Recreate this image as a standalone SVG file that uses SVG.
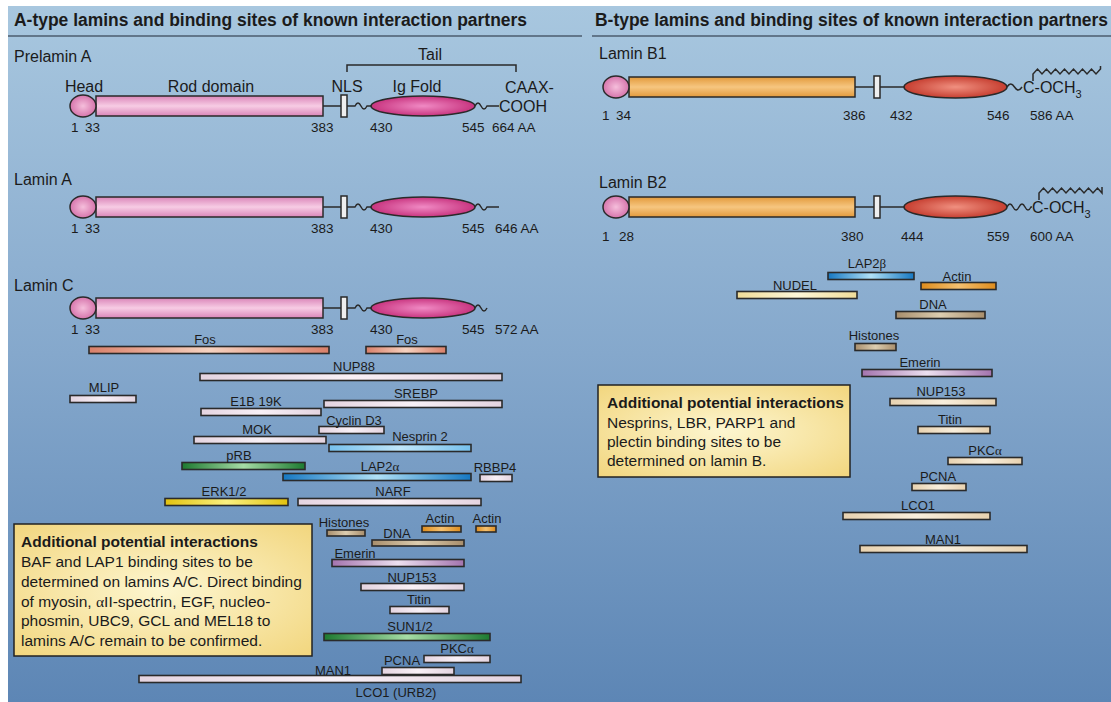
<svg xmlns="http://www.w3.org/2000/svg" width="1111" height="702" viewBox="0 0 1111 702">
<defs>
<style>
text{font-family:"Liberation Sans",Arial,Helvetica,sans-serif;fill:#1b1b1b}
.title{font-size:17.5px;font-weight:bold}
.lam{font-size:16px}
.dom{font-size:16px}
.num{font-size:13.5px}
.lbl{font-size:13px;text-anchor:middle}
.box{font-size:15.5px}
.boxh{font-size:15.5px;font-weight:bold}
.gr{font-family:"Liberation Serif","DejaVu Serif",serif}
.st{stroke:#2a2a2a;stroke-width:1.5}
.bar{stroke:#2a2a2a;stroke-width:1.6}
.ln{stroke:#2a2a2a;stroke-width:1.5;fill:none}
</style>
<linearGradient id="bg" x1="0" y1="0" x2="0" y2="1">
<stop offset="0" stop-color="#a8c7df"/><stop offset="0.5" stop-color="#85a8cc"/><stop offset="1" stop-color="#5d86b5"/>
</linearGradient>
<linearGradient id="gPinkRod" x1="0" y1="0" x2="0" y2="1">
<stop offset="0" stop-color="#da86b9"/><stop offset="0.5" stop-color="#f7cce4"/><stop offset="1" stop-color="#da86b9"/>
</linearGradient>
<radialGradient id="gPinkHead" cx="0.5" cy="0.5" r="0.5">
<stop offset="0" stop-color="#f5bedb"/><stop offset="1" stop-color="#d675ac"/>
</radialGradient>
<radialGradient id="gIg" cx="0.5" cy="0.5" r="0.5">
<stop offset="0" stop-color="#f08ac4"/><stop offset="1" stop-color="#c8347f"/>
</radialGradient>
<linearGradient id="gOrRod" x1="0" y1="0" x2="0" y2="1">
<stop offset="0" stop-color="#e39a3c"/><stop offset="0.5" stop-color="#f6c680"/><stop offset="1" stop-color="#e39a3c"/>
</linearGradient>
<radialGradient id="gRed" cx="0.5" cy="0.5" r="0.5">
<stop offset="0" stop-color="#f09080"/><stop offset="1" stop-color="#c63e30"/>
</radialGradient>
<radialGradient id="gBox" cx="0.5" cy="0.5" r="0.7">
<stop offset="0" stop-color="#fdf6d0"/><stop offset="1" stop-color="#f2d67e"/>
</radialGradient>
<linearGradient id="bFos" x1="0" x2="1"><stop offset="0" stop-color="#d9806a"/><stop offset="0.5" stop-color="#f6d2c0"/><stop offset="1" stop-color="#d9806a"/></linearGradient>
<linearGradient id="bWh" x1="0" x2="1"><stop offset="0" stop-color="#e4d4e0"/><stop offset="0.5" stop-color="#f8f0f6"/><stop offset="1" stop-color="#e4d4e0"/></linearGradient>
<linearGradient id="bLb" x1="0" x2="1"><stop offset="0" stop-color="#76c0ec"/><stop offset="0.5" stop-color="#c0e6fa"/><stop offset="1" stop-color="#76c0ec"/></linearGradient>
<linearGradient id="bGr" x1="0" x2="1"><stop offset="0" stop-color="#1d7a30"/><stop offset="0.5" stop-color="#a6dca6"/><stop offset="1" stop-color="#1d7a30"/></linearGradient>
<linearGradient id="bBl" x1="0" x2="1"><stop offset="0" stop-color="#1678c2"/><stop offset="0.5" stop-color="#b0e0f6"/><stop offset="1" stop-color="#1678c2"/></linearGradient>
<linearGradient id="bYe" x1="0" x2="1"><stop offset="0" stop-color="#e2c210"/><stop offset="0.5" stop-color="#faf080"/><stop offset="1" stop-color="#e2c210"/></linearGradient>
<linearGradient id="bTan" x1="0" x2="1"><stop offset="0" stop-color="#a88e6c"/><stop offset="0.5" stop-color="#dccdb0"/><stop offset="1" stop-color="#a88e6c"/></linearGradient>
<linearGradient id="bAc" x1="0" x2="1"><stop offset="0" stop-color="#de8c1c"/><stop offset="0.5" stop-color="#f4c070"/><stop offset="1" stop-color="#de8c1c"/></linearGradient>
<linearGradient id="bEm" x1="0" x2="1"><stop offset="0" stop-color="#a474ae"/><stop offset="0.5" stop-color="#ece0f0"/><stop offset="1" stop-color="#a474ae"/></linearGradient>
<linearGradient id="bNu" x1="0" x2="1"><stop offset="0" stop-color="#f0dc98"/><stop offset="0.5" stop-color="#fcf6d8"/><stop offset="1" stop-color="#f0dc98"/></linearGradient>
<linearGradient id="bCr" x1="0" x2="1"><stop offset="0" stop-color="#e8d2b0"/><stop offset="0.5" stop-color="#f8eedc"/><stop offset="1" stop-color="#e8d2b0"/></linearGradient>
</defs>

<rect x="0" y="0" width="1111" height="702" fill="#ffffff"/>
<rect x="8" y="6" width="1103" height="696" fill="url(#bg)"/>

<g id="titles">
<text class="title" x="14" y="26" textLength="513" lengthAdjust="spacingAndGlyphs">A-type lamins and binding sites of known interaction partners</text>
<line x1="8" y1="36" x2="582" y2="36" stroke="#4d5d6e" stroke-width="1.5"/>
<text class="title" x="595" y="26" textLength="513" lengthAdjust="spacingAndGlyphs">B-type lamins and binding sites of known interaction partners</text>
<line x1="592" y1="36" x2="1111" y2="36" stroke="#4d5d6e" stroke-width="1.5"/>
</g>

<g id="prelaminA">
<text class="lam" x="14" y="62">Prelamin A</text>
<text class="dom" x="430" y="60" text-anchor="middle">Tail</text>
<path class="ln" d="M347,72 V65 H516 V72"/>
<text class="dom" x="84" y="92" text-anchor="middle">Head</text>
<text class="dom" x="211" y="92" text-anchor="middle">Rod domain</text>
<text class="dom" x="347" y="92" text-anchor="middle">NLS</text>
<text class="dom" x="417" y="92" text-anchor="middle">Ig Fold</text>
<text class="dom" x="505" y="93" font-size="17">CAAX-</text>
<text class="dom" x="499" y="112" font-size="17">COOH</text>
<path class="ln" d="M323,106 H342 M347,106 H355 c2,-4 4,-4 6,0 s4,4 6,0 H372 M475,106 c2,-4 4,-4 6,0 s4,4 6,0 H499"/>
<rect class="st" x="96" y="96" width="227" height="20" fill="url(#gPinkRod)"/>
<ellipse class="st" cx="83" cy="106" rx="13" ry="11" fill="url(#gPinkHead)"/>
<rect class="st" x="341" y="95" width="6" height="22" fill="#eeeeee"/>
<ellipse class="st" cx="423" cy="106" rx="52" ry="10" fill="url(#gIg)"/>
<text class="num" x="71" y="132">1</text><text class="num" x="85" y="132">33</text>
<text class="num" x="311" y="132">383</text><text class="num" x="370" y="132">430</text>
<text class="num" x="462" y="132">545</text><text class="num" x="492" y="132">664 AA</text>
</g>

<g id="laminA">
<text class="lam" x="14" y="185">Lamin A</text>
<path class="ln" d="M323,207 H342 M347,207 H355 c2,-4 4,-4 6,0 s4,4 6,0 H372 M475,207 c2,-4 4,-4 6,0 s4,4 6,0 H499"/>
<rect class="st" x="96" y="197" width="227" height="20" fill="url(#gPinkRod)"/>
<ellipse class="st" cx="83" cy="207" rx="13" ry="11" fill="url(#gPinkHead)"/>
<rect class="st" x="341" y="196" width="6" height="22" fill="#eeeeee"/>
<ellipse class="st" cx="423" cy="207" rx="52" ry="10" fill="url(#gIg)"/>
<text class="num" x="71" y="233">1</text><text class="num" x="85" y="233">33</text>
<text class="num" x="311" y="233">383</text><text class="num" x="370" y="233">430</text>
<text class="num" x="462" y="233">545</text><text class="num" x="495" y="233">646 AA</text>
</g>

<g id="laminC">
<text class="lam" x="14" y="291">Lamin C</text>
<path class="ln" d="M323,308 H342 M347,308 H355 c2,-4 4,-4 6,0 s4,4 6,0 H372 M475,308 c2,-4 4,-4 6,0 s4,4 6,0"/>
<rect class="st" x="96" y="298" width="227" height="20" fill="url(#gPinkRod)"/>
<ellipse class="st" cx="83" cy="308" rx="13" ry="11" fill="url(#gPinkHead)"/>
<rect class="st" x="341" y="297" width="6" height="22" fill="#eeeeee"/>
<ellipse class="st" cx="423" cy="308" rx="52" ry="10" fill="url(#gIg)"/>
<text class="num" x="71" y="334">1</text><text class="num" x="85" y="334">33</text>
<text class="num" x="311" y="334">383</text><text class="num" x="370" y="334">430</text>
<text class="num" x="462" y="334">545</text><text class="num" x="495" y="334">572 AA</text>
</g>

<g id="a-bars">
<g id="a-fos1"><rect class="bar" x="89" y="346.5" width="240" height="7" fill="url(#bFos)"/><text class="lbl" x="205" y="344">Fos</text></g>
<g id="a-fos2"><rect class="bar" x="366" y="346.5" width="80" height="7" fill="url(#bFos)"/><text class="lbl" x="407" y="344">Fos</text></g>
<g id="a-nup88"><rect class="bar" x="200" y="373.5" width="302" height="7" fill="url(#bWh)"/><text class="lbl" x="354" y="371">NUP88</text></g>
<g id="a-mlip"><rect class="bar" x="70" y="395.5" width="66" height="7" fill="url(#bWh)"/><text class="lbl" x="104" y="392">MLIP</text></g>
<g id="a-srebp"><rect class="bar" x="324" y="400.5" width="178" height="7" fill="url(#bWh)"/><text class="lbl" x="416" y="398">SREBP</text></g>
<g id="a-e1b"><rect class="bar" x="201" y="408.5" width="120" height="7" fill="url(#bWh)"/><text class="lbl" x="256" y="406">E1B 19K</text></g>
<g id="a-cyclin"><rect class="bar" x="319" y="426.5" width="65" height="7" fill="url(#bWh)"/><text class="lbl" x="354" y="425">Cyclin D3</text></g>
<g id="a-mok"><rect class="bar" x="194" y="436.5" width="132" height="7" fill="url(#bWh)"/><text class="lbl" x="257" y="434">MOK</text></g>
<g id="a-nesprin"><rect class="bar" x="329" y="444.5" width="142" height="7" fill="url(#bLb)"/><text class="lbl" x="420" y="441">Nesprin 2</text></g>
<g id="a-prb"><rect class="bar" x="182" y="462.5" width="123" height="7" fill="url(#bGr)"/><text class="lbl" x="239" y="460">pRB</text></g>
<g id="a-lap2a"><rect class="bar" x="283" y="473.5" width="188" height="7" fill="url(#bBl)"/><text class="lbl" x="380" y="471">LAP2<tspan class="gr">α</tspan></text></g>
<g id="a-rbbp4"><rect class="bar" x="480" y="474.5" width="32" height="7" fill="url(#bWh)"/><text class="lbl" x="495" y="472">RBBP4</text></g>
<g id="a-erk"><rect class="bar" x="165" y="498.5" width="123" height="7" fill="url(#bYe)"/><text class="lbl" x="224" y="496">ERK1/2</text></g>
<g id="a-narf"><rect class="bar" x="298" y="498.5" width="183" height="7" fill="url(#bWh)"/><text class="lbl" x="393" y="496">NARF</text></g>
<g id="a-histones"><rect class="bar" x="327" y="530" width="38" height="6" fill="url(#bTan)"/><text class="lbl" x="344" y="527">Histones</text></g>
<g id="a-actin1"><rect class="bar" x="422" y="526" width="39" height="6" fill="url(#bAc)"/><text class="lbl" x="440" y="523">Actin</text></g>
<g id="a-actin2"><rect class="bar" x="476" y="526" width="20" height="6" fill="url(#bAc)"/><text class="lbl" x="487" y="523">Actin</text></g>
<g id="a-dna"><rect class="bar" x="372" y="540" width="92" height="6" fill="url(#bTan)"/><text class="lbl" x="397" y="538">DNA</text></g>
<g id="a-emerin"><rect class="bar" x="332" y="559.5" width="132" height="7" fill="url(#bEm)"/><text class="lbl" x="355" y="558">Emerin</text></g>
<g id="a-nup153"><rect class="bar" x="361" y="583.5" width="103" height="7" fill="url(#bWh)"/><text class="lbl" x="412" y="582">NUP153</text></g>
<g id="a-titin"><rect class="bar" x="390" y="606.5" width="59" height="7" fill="url(#bWh)"/><text class="lbl" x="419" y="604">Titin</text></g>
<g id="a-sun"><rect class="bar" x="324" y="633.5" width="166" height="7" fill="url(#bGr)"/><text class="lbl" x="410" y="631">SUN1/2</text></g>
<g id="a-pkca"><rect class="bar" x="424" y="655.5" width="66" height="7" fill="url(#bWh)"/><text class="lbl" x="457" y="653">PKC<tspan class="gr">α</tspan></text></g>
<g id="a-pcna"><rect class="bar" x="382" y="667.5" width="72" height="7" fill="url(#bWh)"/><text class="lbl" x="402" y="665">PCNA</text></g>
<g id="a-man1-lco1"><rect class="bar" x="139" y="675.5" width="382" height="7" fill="url(#bWh)"/><text class="lbl" x="333" y="675">MAN1</text><text class="lbl" x="396" y="697">LCO1 (URB2)</text></g>
</g>

<g id="a-note">
<rect x="14" y="524" width="298" height="132" fill="url(#gBox)" stroke="#222" stroke-width="1.5"/>
<text class="boxh" x="21" y="547">Additional potential interactions</text>
<text class="box" x="21" y="567">BAF and LAP1 binding sites to be</text>
<text class="box" x="21" y="587">determined on lamins A/C. Direct binding</text>
<text class="box" x="21" y="606.5">of myosin, <tspan class="gr">α</tspan>II-spectrin, EGF, nucleo-</text>
<text class="box" x="21" y="626">phosmin, UBC9, GCL and MEL18 to</text>
<text class="box" x="21" y="645.5">lamins A/C remain to be confirmed.</text>
</g>

<g id="laminB1">
<text class="lam" x="599" y="59">Lamin B1</text>
<path class="ln" d="M855,87 H874 M880,87 H905 M1007,87 c2.5,-4 5,-4 7.5,0 s5,4 7.5,0"/>
<rect class="st" x="629" y="77" width="226" height="20" fill="url(#gOrRod)"/>
<ellipse class="st" cx="616" cy="87" rx="13" ry="11" fill="url(#gPinkHead)"/>
<rect class="st" x="874" y="76" width="6" height="22" fill="#eeeeee"/>
<ellipse class="st" cx="955.5" cy="87" rx="51.5" ry="11" fill="url(#gRed)"/>
<text class="dom" x="1023" y="93">C-OCH<tspan font-size="11" dy="5">3</tspan></text>
<path class="ln" stroke-width="1.3" d="M1033,81 V74 l4.5,-5 l4.5,5 l4.5,-5 l4.5,5 l4.5,-5 l4.5,5 l4.5,-5 l4.5,5 l4.5,-5 l4.5,5 l4.5,-5 l4.5,5 l4.5,-5 l4.5,5 l4.5,-5 V66"/>
<text class="num" x="602" y="120">1</text><text class="num" x="616" y="120">34</text>
<text class="num" x="843" y="120">386</text><text class="num" x="890" y="120">432</text>
<text class="num" x="987" y="120">546</text><text class="num" x="1030" y="120">586 AA</text>
</g>

<g id="laminB2">
<text class="lam" x="599" y="188">Lamin B2</text>
<path class="ln" d="M855,207 H874 M880,207 H905 M1007,207 c2,-4 4,-4 6,0 s4,4 6,0 c2,-4 4,-4 6,0 s4,4 6,0 H1032"/>
<rect class="st" x="629" y="197" width="226" height="20" fill="url(#gOrRod)"/>
<ellipse class="st" cx="616" cy="207" rx="13" ry="11" fill="url(#gPinkHead)"/>
<rect class="st" x="874" y="196" width="6" height="22" fill="#eeeeee"/>
<ellipse class="st" cx="955.5" cy="207" rx="51.5" ry="11" fill="url(#gRed)"/>
<text class="dom" x="1032" y="213">C-OCH<tspan font-size="11" dy="5">3</tspan></text>
<path class="ln" stroke-width="1.3" d="M1039,200 V193 l4.5,-5 l4.5,5 l4.5,-5 l4.5,5 l4.5,-5 l4.5,5 l4.5,-5 l4.5,5 l4.5,-5 l4.5,5 l4.5,-5 l4.5,5 l4.5,-5 l4.5,5 V187"/>
<text class="num" x="602" y="241">1</text><text class="num" x="619" y="241">28</text>
<text class="num" x="841" y="241">380</text><text class="num" x="901" y="241">444</text>
<text class="num" x="987" y="241">559</text><text class="num" x="1030" y="241">600 AA</text>
</g>

<g id="b-bars">
<g id="b-lap2b"><rect class="bar" x="828" y="272.5" width="86" height="7" fill="url(#bBl)"/><text class="lbl" x="867" y="268">LAP2<tspan class="gr">β</tspan></text></g>
<g id="b-actin"><rect class="bar" x="921" y="282.5" width="75" height="7" fill="url(#bAc)"/><text class="lbl" x="957" y="281">Actin</text></g>
<g id="b-nudel"><rect class="bar" x="737" y="291.5" width="120" height="7" fill="url(#bNu)"/><text class="lbl" x="795" y="290">NUDEL</text></g>
<g id="b-dna"><rect class="bar" x="896" y="311.5" width="89" height="7" fill="url(#bTan)"/><text class="lbl" x="933" y="309">DNA</text></g>
<g id="b-histones"><rect class="bar" x="855" y="343.5" width="41" height="7" fill="url(#bTan)"/><text class="lbl" x="874" y="340">Histones</text></g>
<g id="b-emerin"><rect class="bar" x="862" y="369.5" width="130" height="7" fill="url(#bEm)"/><text class="lbl" x="920" y="367">Emerin</text></g>
<g id="b-nup153"><rect class="bar" x="890" y="398.5" width="106" height="7" fill="url(#bCr)"/><text class="lbl" x="941" y="396">NUP153</text></g>
<g id="b-titin"><rect class="bar" x="918" y="426.5" width="72" height="7" fill="url(#bCr)"/><text class="lbl" x="950" y="424">Titin</text></g>
<g id="b-pkca"><rect class="bar" x="948" y="457.5" width="74" height="7" fill="url(#bCr)"/><text class="lbl" x="985" y="455">PKC<tspan class="gr">α</tspan></text></g>
<g id="b-pcna"><rect class="bar" x="912" y="483.5" width="54" height="7" fill="url(#bCr)"/><text class="lbl" x="938" y="481">PCNA</text></g>
<g id="b-lco1"><rect class="bar" x="843" y="512.5" width="147" height="7" fill="url(#bCr)"/><text class="lbl" x="918" y="510">LCO1</text></g>
<g id="b-man1"><rect class="bar" x="860" y="545.5" width="167" height="7" fill="url(#bCr)"/><text class="lbl" x="943" y="544">MAN1</text></g>
</g>

<g id="b-note">
<rect x="598" y="385" width="252" height="92" fill="url(#gBox)" stroke="#222" stroke-width="1.5"/>
<text class="boxh" x="607" y="407.5" font-size="15">Additional potential interactions</text>
<text class="box" x="607" y="427.5">Nesprins, LBR, PARP1 and</text>
<text class="box" x="607" y="446.5">plectin binding sites to be</text>
<text class="box" x="607" y="465.5">determined on lamin B.</text>
</g>

<g id="connectors"></g>
</svg>
